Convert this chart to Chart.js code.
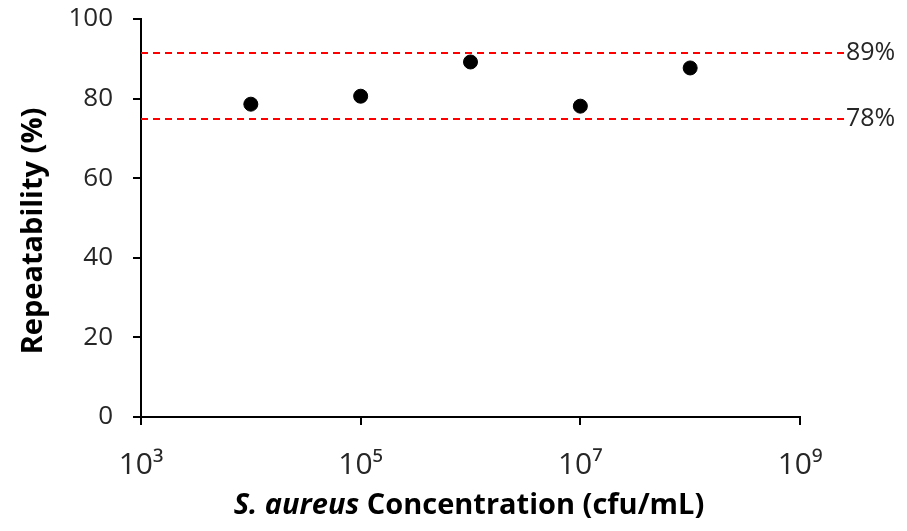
<!DOCTYPE html>
<html>
<head>
<meta charset="utf-8">
<script src="https://cdn.jsdelivr.net/npm/chart.js@4/dist/chart.umd.min.js"></script>
<style>
  body { margin: 0; background: #fff; }
  #wrap { width: 907px; height: 531px; }
</style>
</head>
<body>
<div id="wrap"><canvas id="cht" width="907" height="531"></canvas></div>
<script>
// concentrations (cfu/mL) and repeatability (%)
const concentrations = [1e4, 1e5, 1e6, 1e7, 1e8];
const repeatability = [78.6, 80.6, 89.2, 78.1, 87.7];
const xTicks = [1e3, 1e5, 1e7, 1e9];
const xTickLabels = ["10³", "10⁵", "10⁷", "10⁹"];
const yTicks = [0, 20, 40, 60, 80, 100];
// dashed limit lines: drawn position and their labels
const limitValues = [91.5, 74.8];
const limitLabels = ["89%", "78%"];

const fontFam = "'Open Sans', 'Noto Sans', sans-serif";
const textCol = "#262626";

const extras = {
  id: "extras",
  afterDatasetsDraw(chart) {
    const ctx = chart.ctx;
    const y = chart.scales.y;
    const area = chart.chartArea;
    ctx.save();
    // dashed limit lines
    ctx.strokeStyle = "#ff0000";
    ctx.lineWidth = 2;
    ctx.setLineDash([7, 5]);
    limitValues.forEach((v, i) => {
      const py = Math.round(y.getPixelForValue(v));
      ctx.beginPath();
      ctx.moveTo(area.left, py);
      ctx.lineTo(area.right + 45, py);
      ctx.stroke();
      ctx.fillStyle = textCol;
      ctx.font = "25px " + fontFam;
      ctx.textBaseline = "middle";
      ctx.textAlign = "left";
      ctx.fillText(limitLabels[i], area.right + 46, py);
    });
    ctx.setLineDash([]);

    // x axis title, with the species name in italics
    const p1 = "S. aureus";
    const p2 = " Concentration (cfu/mL)";
    const f1 = "italic bold 29px " + fontFam;
    const f2 = "bold 29px " + fontFam;
    ctx.font = f1;
    const w1 = ctx.measureText(p1).width;
    ctx.font = f2;
    const w2 = ctx.measureText(p2).width;
    let sx = 469 - (w1 + w2) / 2;
    ctx.fillStyle = "#000";
    ctx.textBaseline = "middle";
    ctx.textAlign = "left";
    ctx.font = f1;
    ctx.fillText(p1, sx, 506);
    ctx.font = f2;
    ctx.fillText(p2, sx + w1, 506);

    // y axis title
    ctx.translate(34, 231);
    ctx.rotate(-Math.PI / 2);
    ctx.textAlign = "center";
    ctx.font = "bold 29px " + fontFam;
    ctx.fillText("Repeatability (%)", 0, 0);
    ctx.restore();
  }
};

new Chart("cht", {
  type: "scatter",
  data: {
    datasets: [{
      data: concentrations.map((c, i) => ({ x: c, y: repeatability[i] })),
      backgroundColor: "#000",
      borderColor: "#000",
      pointRadius: 7,
      pointHoverRadius: 7
    }]
  },
  options: {
    responsive: false,
    animation: false,
    layout: { padding: { left: 0, right: 107, top: 19, bottom: 0 } },
    plugins: { legend: { display: false }, tooltip: { enabled: false } },
    scales: {
      x: {
        type: "logarithmic",
        min: 1e3,
        max: 1e9,
        afterBuildTicks: s => { s.ticks = xTicks.map(v => ({ value: v })); },
        afterFit: s => { s.height = 114; s.paddingLeft = 0; s.paddingRight = 0; },
        ticks: {
          callback: v => xTickLabels[xTicks.indexOf(v)],
          color: textCol,
          font: { family: fontFam, size: 30 },
          padding: 22,
          maxRotation: 0,
          autoSkip: false
        },
        grid: { drawOnChartArea: false, drawTicks: true, tickLength: 8, color: "#000", lineWidth: 2 },
        border: { color: "#000", width: 2 }
      },
      y: {
        min: 0,
        max: 100,
        afterBuildTicks: s => { s.ticks = yTicks.map(v => ({ value: v })); },
        afterFit: s => { s.width = 141; s.paddingTop = 0; s.paddingBottom = 0; },
        ticks: {
          color: textCol,
          font: { family: fontFam, size: 26 },
          padding: 20
        },
        grid: { drawOnChartArea: false, drawTicks: true, tickLength: 8, color: "#000", lineWidth: 2 },
        border: { color: "#000", width: 2 }
      }
    }
  },
  plugins: [extras]
});
</script>
</body>
</html>
